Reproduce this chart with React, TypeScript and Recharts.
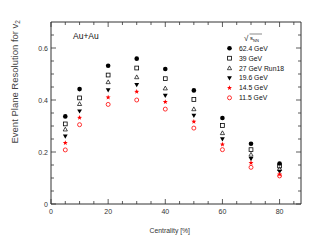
import React from 'react';
import { ScatterChart, Scatter, XAxis, YAxis, Legend } from 'recharts';

const centrality = [5, 10, 20, 30, 40, 50, 60, 70, 80];
const gev624 = [0.337, 0.442, 0.532, 0.559, 0.519, 0.437, 0.331, 0.232, 0.156];
const gev39 = [0.308, 0.408, 0.496, 0.523, 0.482, 0.402, 0.302, 0.209, 0.146];
const gev27 = [0.287, 0.385, 0.469, 0.488, 0.445, 0.365, 0.273, 0.19, 0.135];
const gev196 = [0.26, 0.357, 0.438, 0.458, 0.417, 0.34, 0.25, 0.174, 0.125];
const gev145 = [0.235, 0.332, 0.41, 0.432, 0.393, 0.317, 0.229, 0.158, 0.114];
const gev115 = [0.208, 0.305, 0.383, 0.4, 0.365, 0.292, 0.209, 0.141, 0.108];

const seriesNames = ['62.4 GeV', '39 GeV', '27 GeV Run18', '19.6 GeV', '14.5 GeV', '11.5 GeV'];
const xTicks = [0, 5, 10, 15, 20, 25, 30, 35, 40, 45, 50, 55, 60, 65, 70, 75, 80, 85];
const xLabels = [0, 20, 40, 60, 80];
const yTicks = [0, 0.05, 0.1, 0.15, 0.2, 0.25, 0.3, 0.35, 0.4, 0.45, 0.5, 0.55, 0.6, 0.65];
const yLabels = [0, 0.2, 0.4, 0.6];

const FONT = '"Liberation Sans", Arial, Helvetica, sans-serif';
const AXIS = '#333';
const RED = '#ff0000';
const TEXT = '#333';

const toData = (vals: number[]) => centrality.map((c, i) => ({ x: c, y: vals[i] }));

type MarkerKind = 'fcircle' | 'osquare' | 'otri' | 'fitri' | 'star' | 'ocircle';

const Marker = ({ kind, cx, cy }: { kind: MarkerKind; cx: number; cy: number }) => {
  switch (kind) {
    case 'fcircle':
      return <circle cx={cx} cy={cy} r={2.3} fill="#000" />;
    case 'osquare':
      return <rect x={cx - 1.9} y={cy - 1.9} width={3.8} height={3.8} fill="none" stroke="#000" strokeWidth={0.8} />;
    case 'otri':
      return (
        <polygon
          points={`${cx},${cy - 2.2} ${cx + 2.1},${cy + 1.6} ${cx - 2.1},${cy + 1.6}`}
          fill="none"
          stroke="#000"
          strokeWidth={0.7}
        />
      );
    case 'fitri':
      return <polygon points={`${cx - 2.4},${cy - 1.8} ${cx + 2.4},${cy - 1.8} ${cx},${cy + 2.4}`} fill="#000" />;
    case 'star': {
      const pts: string[] = [];
      for (let i = 0; i < 10; i++) {
        const r = i % 2 === 0 ? 2.6 : 1.1;
        const a = -Math.PI / 2 + (i * Math.PI) / 5;
        pts.push(`${cx + r * Math.cos(a)},${cy + r * Math.sin(a)}`);
      }
      return <polygon points={pts.join(' ')} fill={RED} />;
    }
    case 'ocircle':
      return <circle cx={cx} cy={cy} r={2} fill="none" stroke={RED} strokeWidth={0.8} />;
  }
  return null;
};

const series: { name: string; data: number[]; kind: MarkerKind; color: string }[] = [
  { name: seriesNames[0], data: gev624, kind: 'fcircle', color: '#000' },
  { name: seriesNames[1], data: gev39, kind: 'osquare', color: '#000' },
  { name: seriesNames[2], data: gev27, kind: 'otri', color: '#000' },
  { name: seriesNames[3], data: gev196, kind: 'fitri', color: '#000' },
  { name: seriesNames[4], data: gev145, kind: 'star', color: RED },
  { name: seriesNames[5], data: gev115, kind: 'ocircle', color: RED },
];

const BottomTick = (props: any) => {
  const { x, y, payload } = props;
  const v = payload.value;
  const major = xLabels.includes(v);
  return (
    <g>
      <line x1={x} x2={x} y1={y} y2={y - (major ? 5 : 3)} stroke={AXIS} strokeWidth={0.8} />
      {major && (
        <text x={x} y={y + 9.5} textAnchor="middle" fontSize={7} fontFamily={FONT} fill={TEXT}>
          {v}
        </text>
      )}
    </g>
  );
};

const TopTick = (props: any) => {
  const { x, y, payload } = props;
  const major = xLabels.includes(payload.value);
  return <line x1={x} x2={x} y1={y} y2={y + (major ? 5 : 3)} stroke={AXIS} strokeWidth={0.8} />;
};

const LeftTick = (props: any) => {
  const { x, y, payload } = props;
  const v = payload.value;
  const major = yLabels.includes(v);
  return (
    <g>
      <line x1={x} x2={x + (major ? 5 : 3)} y1={y} y2={y} stroke={AXIS} strokeWidth={0.8} />
      {major && (
        <text x={x - 3} y={y + 2.5} textAnchor="end" fontSize={7} fontFamily={FONT} fill={TEXT}>
          {String(v)}
        </text>
      )}
    </g>
  );
};

const RightTick = (props: any) => {
  const { x, y, payload } = props;
  const major = yLabels.includes(payload.value);
  return <line x1={x} x2={x - (major ? 5 : 3)} y1={y} y2={y} stroke={AXIS} strokeWidth={0.8} />;
};

const LegendContent = () => (
  <svg width={332} height={242} style={{ position: 'absolute', left: 0, top: 0, overflow: 'visible' }}>
    <text x={73} y={39} fontSize={8.5} fontFamily={FONT} fill="#111">
      Au+Au
    </text>
    <g fontFamily={FONT} fill="#111">
      <text x={244} y={41} fontSize={8}>
        √
      </text>
      <line x1={249.5} x2={262} y1={34} y2={34} stroke="#111" strokeWidth={0.5} />
      <text x={250} y={40} fontSize={6}>
        s
        <tspan fontSize={4} dy={1.5}>
          NN
        </tspan>
      </text>
    </g>
    {series.map((s, i) => {
      const cy = 48.3 + i * 9.9;
      return (
        <g key={s.name}>
          <Marker kind={s.kind} cx={229.5} cy={cy} />
          <text x={239} y={cy + 2.4} fontSize={6.8} fontFamily={FONT} fill="#111">
            {s.name}
          </text>
        </g>
      );
    })}
    <text x={14} y={20} transform="rotate(-90 14 20)" fontSize={9.5} fontFamily={FONT} fill="#444" textAnchor="end" dominantBaseline="central">
      Event Plane Resolution for v
      <tspan fontSize={6.5} dy={2.5}>
        2
      </tspan>
    </text>
    <text x={190} y={233} fontSize={6.8} fontFamily={FONT} fill={TEXT} textAnchor="end">
      Centrality [%]
    </text>
  </svg>
);

const noShape = () => <g />;

export default function App() {
  return (
    <div style={{ position: 'absolute', left: 0, top: 0, width: 332, height: 242, background: '#fff' }}>
      <ScatterChart width={332} height={242} margin={{ top: 21, right: 30, bottom: 18, left: 21 }}>
        <XAxis
          xAxisId="b"
          type="number"
          dataKey="x"
          domain={[0, 87.5]}
          ticks={xTicks}
          interval={0}
          allowDataOverflow
          height={20}
          tickSize={0}
          tickMargin={0}
          tickLine={false}
          stroke={AXIS}
          tick={<BottomTick />}
        />
        <XAxis
          xAxisId="t"
          orientation="top"
          type="number"
          dataKey="x"
          domain={[0, 87.5]}
          ticks={xTicks}
          interval={0}
          allowDataOverflow
          height={1}
          tickSize={0}
          tickMargin={0}
          tickLine={false}
          stroke={AXIS}
          tick={<TopTick />}
        />
        <YAxis
          yAxisId="l"
          type="number"
          dataKey="y"
          domain={[0, 0.7]}
          ticks={yTicks}
          interval={0}
          allowDataOverflow
          width={30}
          tickSize={0}
          tickMargin={0}
          tickLine={false}
          stroke={AXIS}
          tick={<LeftTick />}
        />
        <YAxis
          yAxisId="r"
          orientation="right"
          type="number"
          dataKey="y"
          domain={[0, 0.7]}
          ticks={yTicks}
          interval={0}
          allowDataOverflow
          width={1}
          tickSize={0}
          tickMargin={0}
          tickLine={false}
          stroke={AXIS}
          tick={<RightTick />}
        />
        <Scatter
          name="frame"
          xAxisId="t"
          yAxisId="r"
          data={toData(gev624)}
          isAnimationActive={false}
          legendType="none"
          shape={noShape}
        />
        {series.map((s) => (
          <Scatter
            key={s.name}
            name={s.name}
            xAxisId="b"
            yAxisId="l"
            data={toData(s.data)}
            fill={s.color}
            isAnimationActive={false}
            shape={(p: any) => <Marker kind={s.kind} cx={p.cx} cy={p.cy} />}
          />
        ))}
        <Legend
          layout="vertical"
          align="center"
          verticalAlign="middle"
          wrapperStyle={{ position: 'absolute', left: 0, top: 0, width: 332, height: 242, pointerEvents: 'none' }}
          content={<LegendContent />}
        />
      </ScatterChart>
    </div>
  );
}
